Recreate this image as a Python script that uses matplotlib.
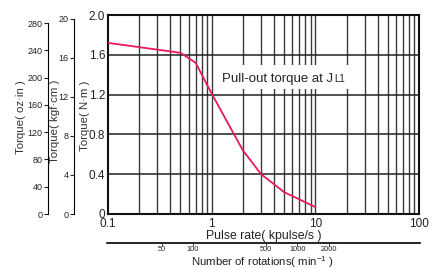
import matplotlib.pyplot as plt
from matplotlib.patches import Rectangle
from matplotlib.ticker import FixedLocator, NullFormatter, NullLocator

plt.rcParams['font.family'] = ['Liberation Sans', 'DejaVu Sans']

# pull-out torque curve
pulse_rate = [0.1, 0.5, 0.7, 1, 2, 3, 5, 10]        # kpulse/s
torque_nm = [1.72, 1.62, 1.52, 1.21, 0.64, 0.40, 0.22, 0.07]

nm_ticks = [0, 0.4, 0.8, 1.2, 1.6, 2.0]
nm_labels = ["0", "0.4", "0.8", "1.2", "1.6", "2.0"]
kgf_ticks = [0, 4, 8, 12, 16, 20]
oz_ticks = [0, 40, 80, 120, 160, 200, 240, 280]
x_ticks = [0.1, 1, 10, 100]
x_labels = ["0.1", "1", "10", "100"]
rpm_ticks = [50, 100, 500, 1000, 2000]
RPM_PER_KPPS = 150.0

W, H = 438, 269
fig = plt.figure(figsize=(W / 100, H / 100), dpi=100)

def box(x0, y0, x1, y1):
    # pixel box -> figure fraction
    return [x0 / W, 1 - y1 / H, (x1 - x0) / W, (y1 - y0) / H]

ax = fig.add_axes(box(108, 15, 419, 214))
ax.set_xscale("log")
ax.set_xlim(0.1, 100)
ax.set_ylim(0, 2.0)

# grid
minor = [m * 10 ** d for d in (-1, 0, 1) for m in range(2, 10)]
for x in minor + [1, 10]:
    ax.axvline(x, color="#3a3a3a", lw=1.0, zorder=1)
for y in nm_ticks[1:-1]:
    ax.axhline(y, color="#222222", lw=1.1, zorder=1)

ax.plot(pulse_rate, torque_nm, color="#e8195c", lw=1.3, zorder=3)

ax.xaxis.set_major_locator(FixedLocator(x_ticks))
ax.set_xticklabels(x_labels)
ax.xaxis.set_minor_locator(NullLocator())
ax.xaxis.set_minor_formatter(NullFormatter())
ax.set_yticks(nm_ticks)
ax.set_yticklabels(nm_labels)
ax.tick_params(length=0, labelsize=8.5, pad=2, colors="#222222")
ax.tick_params(axis="x", pad=3)
for s in ax.spines.values():
    s.set_linewidth(1.5)
    s.set_color("#111111")
ax.set_xlabel("Pulse rate( kpulse/s )", fontsize=8.8, labelpad=0, color="#222222")

# white patch behind the label
ax.add_patch(Rectangle((1.08, 1.256), 27.7 - 1.08, 1.497 - 1.256,
                       facecolor="white", edgecolor="none", zorder=4))
t = ax.text(1.26, 1.36, "Pull-out torque at J", fontsize=9.5, va="center",
            color="#222222", zorder=5)
ax.annotate("L1", xy=(1, 0), xycoords=t, xytext=(0.5, 0.3),
            textcoords="offset points", fontsize=7, va="bottom",
            color="#222222", zorder=5)

# kgf·cm axis
ax_kgf = fig.add_axes(box(74, 15, 75, 214))
ax_kgf.set_ylim(0, 2.0 / 0.0980665)
ax_kgf.set_yticks(kgf_ticks)
ax_kgf.spines["left"].set_bounds(0, 20)
# oz·in axis
ax_oz = fig.add_axes(box(48, 15, 49, 214))
ax_oz.set_ylim(0, 292)
ax_oz.set_yticks(oz_ticks)
ax_oz.spines["left"].set_bounds(0, 280)
for a in (ax_kgf, ax_oz):
    a.patch.set_visible(False)
    a.set_xticks([])
    for k in ("top", "right", "bottom"):
        a.spines[k].set_visible(False)
    a.spines["left"].set_linewidth(0.8)
    a.tick_params(axis="y", length=3, width=0.8, labelsize=6.5, pad=1,
                  colors="#222222")

fig.text(21 / W, 1 - 117 / H, "Torque( oz·in )", rotation=90, fontsize=8.2,
         ha="center", va="center", color="#333333")
fig.text(55 / W, 1 - 121 / H, "Torque( kgf·cm )", rotation=90, fontsize=8.2,
         ha="center", va="center", color="#333333")
fig.text(85 / W, 1 - 116 / H, "Torque( N·m )", rotation=90, fontsize=8.2,
         ha="center", va="center", color="#333333")

# rotation speed axis
ax_rpm = fig.add_axes(box(107, 242, 420, 243))
ax_rpm.set_xscale("log")
ax_rpm.set_xlim(0.1 * RPM_PER_KPPS, 100 * RPM_PER_KPPS)
ax_rpm.patch.set_visible(False)
ax_rpm.set_yticks([])
for k in ("top", "right", "left"):
    ax_rpm.spines[k].set_visible(False)
ax_rpm.spines["bottom"].set_linewidth(1.2)
ax_rpm.xaxis.set_major_locator(FixedLocator(rpm_ticks))
ax_rpm.set_xticklabels([str(v) for v in rpm_ticks])
ax_rpm.xaxis.set_minor_locator(NullLocator())
ax_rpm.xaxis.set_minor_formatter(NullFormatter())
ax_rpm.tick_params(axis="x", length=2, width=0.6, labelsize=5.3, pad=0.5,
                   colors="#222222")
fig.text(262 / W, 1 - 262 / H,
         r"Number of rotations( min$^{\mathregular{-1}}$ )",
         fontsize=8.2, ha="center", va="center", color="#222222")

fig.savefig("out.png", dpi=100)
